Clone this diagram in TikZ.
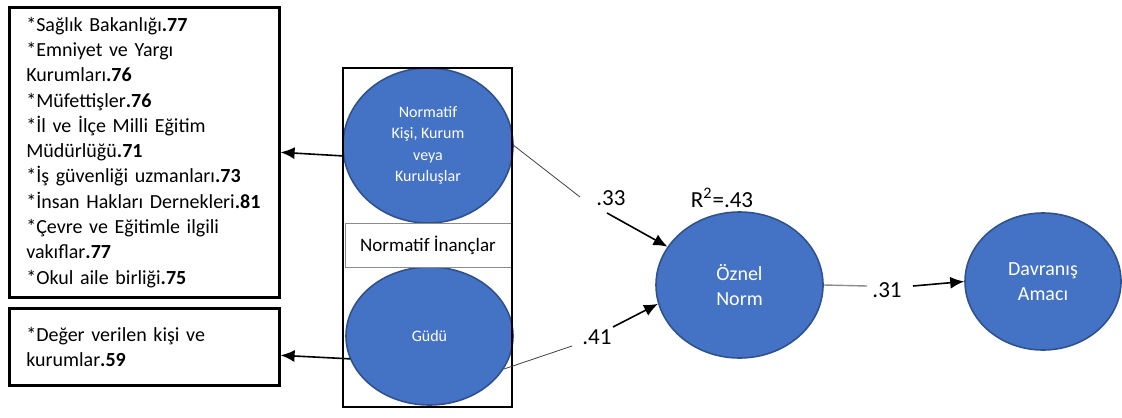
\documentclass[tikz,border=0pt]{standalone}
\usepackage{fontspec}
\setmainfont{Carlito}
\usetikzlibrary{shapes.geometric,arrows.meta,calc}
\definecolor{cfill}{HTML}{4472C4}
\definecolor{cdraw}{HTML}{2F528F}
\tikzset{
  listbox/.style={draw=black,line width=1.3pt,fill=white,anchor=north west,
    text width=118pt,inner xsep=8.5pt,inner ysep=0pt,align=left,
    font=\fontsize{10}{12.65}\selectfont},
  blob/.style={ellipse,draw=cdraw,line width=0.8pt,fill=cfill,text=white,inner sep=0pt,align=center},
  smalltext/.style={font=\fontsize{8}{10.7}\selectfont},
  midtext/.style={font=\fontsize{10}{12.6}\selectfont},
  coef/.style={font=\fontsize{11.5}{13}\selectfont,inner sep=1pt},
  thinline/.style={draw=black!75,line width=0.4pt},
  greyline/.style={draw=black!45,line width=0.7pt},
  arr/.style={-{Latex[length=7pt,width=6pt]},line width=0.8pt,draw=black},
}
\begin{document}
\begin{tikzpicture}[x=0.5pt,y=-0.5pt]
\useasboundingbox (0,0) rectangle (1122,417);
% left boxes
\node[listbox,minimum height=145pt] (box1) at (8,6) {%
{*}Sağlık Bakanlığı\textbf{.77}\\
{*}Emniyet ve Yargı\\
Kurumları\textbf{.76}\\
{*}Müfettişler\textbf{.76}\\
{*}İl ve İlçe Milli Eğitim\\
Müdürlüğü\textbf{.71}\\
{*}İş güvenliği uzmanları\textbf{.73}\\
{*}İnsan Hakları Dernekleri\textbf{.81}\\
{*}Çevre ve Eğitimle ilgili\\
vakıflar\textbf{.77}\\
{*}Okul aile birliği\textbf{.75}};
\node[listbox,minimum height=38.5pt] (box2) at (8,307) {%
{*}Değer verilen kişi ve\\
kurumlar\textbf{.59}};
% group
\node[blob,smalltext,minimum width=85pt,minimum height=77.5pt] (c1) at (428,145.5)
  {Normatif\\Kişi, Kurum\\veya\\Kuruluşlar};
\node[blob,smalltext,minimum width=83.5pt,minimum height=69pt] (c2) at (429.5,336) {Güdü};
\node[draw=black!45,line width=0.4pt,fill=white,minimum width=83pt,minimum height=22pt,inner sep=0pt,
  font=\fontsize{9.5}{11}\selectfont] (ni) at (428,245) {Normatif İnançlar};
\node[draw=black,line width=1pt,minimum width=84.5pt,minimum height=169.5pt,inner sep=0pt] (grp) at (427.5,237.5) {};
% right nodes
\node[blob,midtext,minimum width=83.5pt,minimum height=73pt] (oz) at (739.5,285) {Öznel\\Norm};
\node[blob,midtext,minimum width=78pt,minimum height=68.5pt] (dv) at (1043,281.5) {Davranış\\Amacı};
% labels
\node[coef] (l33) at (611,198) {.33};
\node[coef] (l41) at (597,337) {.41};
\node[coef] (l31) at (887,290) {.31};
\node[coef] (r2) at (722,198) {R\textsuperscript{2}=.43};
% helper coordinates
\coordinate (e33) at (580,197);
\coordinate (s33) at (607,213);
\coordinate (e41) at (572,346);
\coordinate (s41) at (613,327);
\coordinate (e31) at (867,286);
\coordinate (s31) at (913,286);
% connectors
\draw[arr] (c1.187) -- (box1.east);
\draw[arr] (c2.196) -- ($(box2.east)+(0,8.5)$);
\draw[thinline] (c1.east) -- (e33);
\draw[arr] (s33) -- (oz.152);
\draw[thinline] (c2.-24) -- (e41);
\draw[arr] (s41) -- (oz.193);
\draw[greyline] (oz.east) -- (e31);
\draw[arr] (s31) -- (dv.west);
\end{tikzpicture}
\end{document}
